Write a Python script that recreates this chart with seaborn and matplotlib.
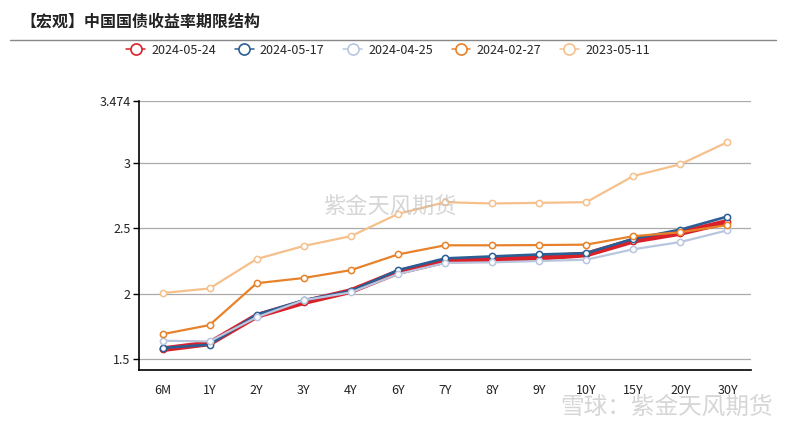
import matplotlib
matplotlib.use("Agg")
import matplotlib.pyplot as plt
import seaborn as sns
import pandas as pd
from matplotlib.lines import Line2D

sns.set_theme(style="white")
plt.rcParams['font.family'] = ['Noto Sans CJK SC', 'DejaVu Sans']

tenors = ["6M", "1Y", "2Y", "3Y", "4Y", "6Y", "7Y", "8Y", "9Y", "10Y", "15Y", "20Y", "30Y"]
dates = ["2024-05-24", "2024-05-17", "2024-04-25", "2024-02-27", "2023-05-11"]
y_20240524 = [1.575, 1.62, 1.83, 1.935, 2.02, 2.165, 2.25, 2.265, 2.275, 2.30, 2.405, 2.465, 2.55]
y_20240517 = [1.585, 1.61, 1.84, 1.95, 2.02, 2.18, 2.27, 2.285, 2.30, 2.31, 2.42, 2.49, 2.59]
y_20240425 = [1.64, 1.635, 1.82, 1.95, 2.01, 2.15, 2.235, 2.24, 2.25, 2.26, 2.34, 2.395, 2.485]
y_20240227 = [1.69, 1.76, 2.08, 2.12, 2.18, 2.30, 2.37, 2.37, 2.372, 2.375, 2.44, 2.47, 2.525]
y_20230511 = [2.005, 2.04, 2.265, 2.365, 2.44, 2.61, 2.70, 2.69, 2.695, 2.70, 2.90, 2.99, 3.16]
series = [y_20240524, y_20240517, y_20240425, y_20240227, y_20230511]
colors = ["#DA2129", "#2B5E94", "#B8C6DF", "#E8822A", "#F5C08C"]
widths = [4.2, 1.9, 1.6, 1.6, 1.6]
yticks = [1.5, 2, 2.5, 3, 3.474]
ytick_labels = ["1.5", "2", "2.5", "3", "3.474"]

fig = plt.figure(figsize=(7.86, 4.30), dpi=100)
ax = fig.add_axes([0.1768, 0.1395, 0.9555 - 0.1768, 0.7651 - 0.1395])

for d, vals, c, w in zip(dates, series, colors, widths):
    df = pd.DataFrame({"tenor": tenors, "value": vals})
    sns.lineplot(data=df, x="tenor", y="value", ax=ax, color=c, linewidth=w,
                 marker="o", markersize=4.5, markerfacecolor="white",
                 markeredgecolor=c, markeredgewidth=1.1, sort=False)

ax.set_xlim(-0.5, len(tenors) - 0.5)
ax.set_ylim(1.416, 3.474)
ax.set_yticks(yticks)
ax.set_yticklabels(ytick_labels)
ax.set_xlabel("")
ax.set_ylabel("")
ax.grid(axis="y", color="#AAAAAA", linewidth=0.9)
ax.set_axisbelow(True)
for s in ["top", "right"]:
    ax.spines[s].set_visible(False)
for s in ["left", "bottom"]:
    ax.spines[s].set_color("black")
    ax.spines[s].set_linewidth(1.2)
ax.tick_params(axis="y", which="both", left=True, length=4, width=1, color="black",
               labelsize=9, labelcolor="#222222", pad=2)
ax.tick_params(axis="x", bottom=False, labelsize=9, labelcolor="#222222", pad=4)

# title and rule
fig.text(20 / 786, 1 - 22 / 430, "【宏观】中国国债收益率期限结构", fontsize=11.5, fontweight="bold",
         color="#222222", va="center", ha="left")
fig.add_artist(Line2D([10 / 786, 776 / 786], [1 - 40 / 430, 1 - 40 / 430],
                      color="#888888", linewidth=1, transform=fig.transFigure))

# legend
handles = [Line2D([0], [0], color=c, linewidth=1.1, marker="o", markersize=8,
                  markerfacecolor="white", markeredgecolor=c, markeredgewidth=1.2)
           for c in colors]
fig.legend(handles, dates, loc="center", bbox_to_anchor=(388 / 786, 1 - 50 / 430),
           ncol=5, frameon=False, fontsize=9, handlelength=1.5, handletextpad=0.5,
           columnspacing=1.5, borderaxespad=0)

# watermarks
fig.text(390 / 786, 1 - 207 / 430, "紫金天风期货", fontsize=16, color="#BBBBBB",
         alpha=0.6, ha="center", va="center")
fig.text(560 / 786, 1 - 407 / 430, "雪球：紫金天风期货", fontsize=17, color="#CCCCCC",
         alpha=0.8, ha="left", va="center")

fig.savefig("out.png", dpi=100)
